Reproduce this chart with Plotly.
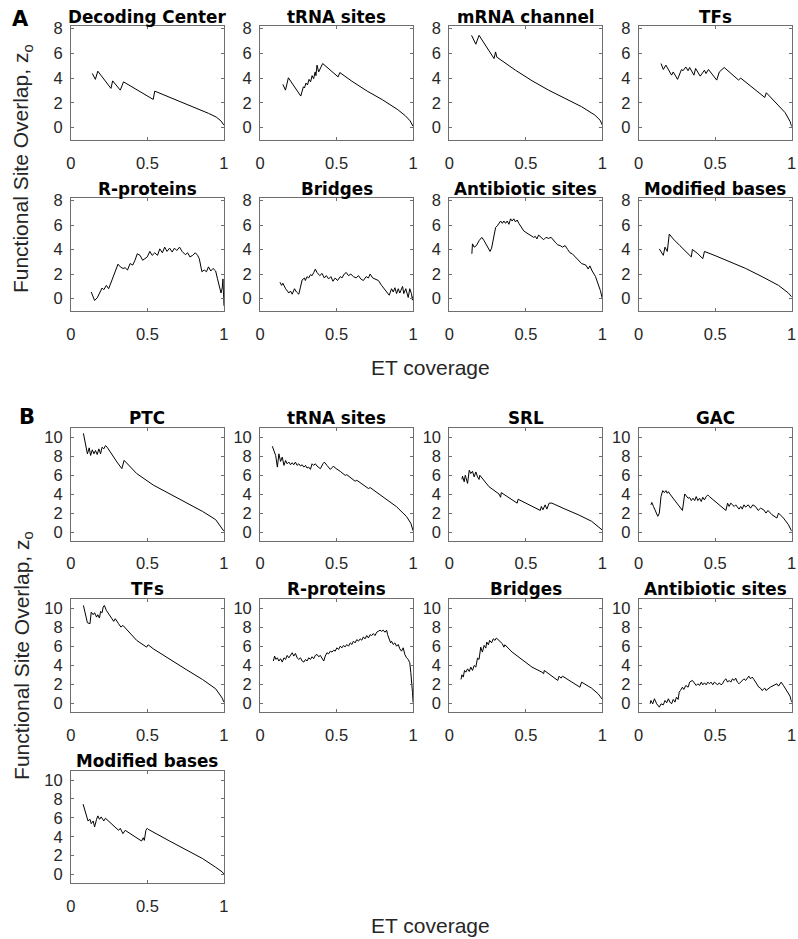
import plotly.graph_objects as go

# ---------------- data: Panel A ----------------
a_titles = ["Decoding Center", "tRNA sites", "mRNA channel", "TFs",
            "R-proteins", "Bridges", "Antibiotic sites", "Modified bases"]

a_decoding_x = [0.14, 0.16, 0.176, 0.262, 0.273, 0.323, 0.344, 0.538, 0.548, 0.7, 0.8, 0.9, 0.95, 0.98, 1.0]
a_decoding_y = [4.38, 3.9, 4.56, 3.17, 3.78, 3.03, 3.7, 2.28, 2.95, 2.2, 1.7, 1.15, 0.85, 0.55, 0.2]

a_trna_x = [0.149, 0.166, 0.185, 0.266, 0.283, 0.29, 0.30, 0.31, 0.32, 0.33, 0.34, 0.35, 0.36, 0.365,
            0.372, 0.383, 0.409, 0.51, 0.521, 0.6, 0.7, 0.8, 0.9, 0.95, 0.98, 1.0]
a_trna_y = [3.5, 3.03, 4.03, 2.55, 3.3, 3.2, 3.6, 3.45, 3.9, 3.7, 4.2, 3.95, 4.5, 4.2,
            5.05, 4.5, 5.18, 4.1, 4.45, 3.75, 2.95, 2.25, 1.45, 0.95, 0.55, 0.1]

a_mrna_x = [0.145, 0.173, 0.194, 0.292, 0.302, 0.31, 0.432, 0.54, 0.648, 0.756, 0.864, 0.95, 0.985, 1.0]
a_mrna_y = [7.46, 6.74, 7.46, 5.58, 6.12, 5.7, 4.64, 3.79, 3.03, 2.36, 1.69, 1.02, 0.6, 0.21]

a_tfs_x = [0.146, 0.161, 0.178, 0.215, 0.226, 0.254, 0.28, 0.29, 0.308, 0.323, 0.333, 0.361, 0.372,
           0.402, 0.43, 0.44, 0.456, 0.51, 0.527, 0.544, 0.559, 0.652, 0.667, 0.824, 0.834, 0.957, 0.99, 1.0]
a_tfs_y = [5.18, 4.7, 5.05, 4.24, 4.5, 3.9, 4.7, 4.6, 4.9, 4.6, 4.86, 4.24, 4.78,
           4.16, 4.64, 4.37, 4.7, 3.84, 4.5, 4.7, 4.86, 3.85, 4.0, 2.44, 2.82, 1.21, 0.48, 0.08]

a_rprot_x = [0.133, 0.155, 0.172, 0.194, 0.204, 0.215, 0.232, 0.247, 0.262, 0.275, 0.29, 0.308, 0.323,
             0.34, 0.355, 0.37, 0.387, 0.404, 0.419, 0.434, 0.452, 0.469, 0.484, 0.499, 0.516, 0.531,
             0.548, 0.566, 0.581, 0.598, 0.613, 0.628, 0.645, 0.662, 0.677, 0.692, 0.71, 0.727, 0.748,
             0.763, 0.778, 0.796, 0.813, 0.828, 0.839, 0.856, 0.871, 0.886, 0.899, 0.914, 0.929, 0.946,
             0.957, 0.968, 0.981, 0.989, 0.994, 1.0]
a_rprot_y = [0.53, -0.16, 0.05, 0.64, 0.86, 0.72, 1.07, 0.8, 1.26, 1.66, 2.19, 2.81, 2.59,
             2.46, 2.51, 2.33, 2.86, 2.73, 3.13, 3.66, 3.53, 3.13, 3.26, 3.4, 3.85, 3.53,
             3.74, 3.53, 4.06, 3.74, 4.2, 3.85, 4.12, 3.8, 4.12, 3.93, 4.2, 3.85, 3.58,
             3.74, 3.4, 3.53, 3.74, 3.53, 3.26, 2.19, 2.33, 2.19, 2.59, 2.25, 2.46, 2.25,
             1.66, 1.12, 0.45, 0.86, 1.6, -0.6]

a_bridges_x = [0.13, 0.141, 0.149, 0.167, 0.188, 0.199, 0.21, 0.225, 0.238, 0.253, 0.264, 0.275, 0.29,
               0.296, 0.307, 0.318, 0.329, 0.34, 0.351, 0.361, 0.372, 0.39, 0.405, 0.42, 0.433, 0.448,
               0.463, 0.476, 0.491, 0.506, 0.524, 0.535, 0.55, 0.563, 0.578, 0.593, 0.61, 0.628, 0.643,
               0.658, 0.675, 0.693, 0.708, 0.719, 0.736, 0.751, 0.773, 0.794, 0.816, 0.844, 0.859, 0.87,
               0.881, 0.892, 0.903, 0.913, 0.931, 0.939, 0.952, 0.968, 0.978, 0.989, 0.996, 1.0]
a_bridges_y = [1.33, 1.07, 1.25, 0.8, 0.45, 0.61, 0.35, 0.8, 0.53, 0.35, 0.93, 1.52, 1.68,
               1.47, 1.79, 1.68, 1.95, 1.87, 2.13, 2.4, 2.13, 1.87, 2.05, 1.68, 1.87, 1.6,
               1.79, 1.41, 1.68, 1.47, 1.79, 1.68, 2.0, 2.13, 1.87, 2.0, 1.79, 1.68, 1.87,
               1.6, 1.47, 1.79, 1.68, 2.0, 1.68, 1.6, 1.47, 1.07, 0.72, 0.27, 0.8, 0.53,
               0.88, 0.4, 0.8, 0.45, 0.99, 0.4, 0.8, 0.08, 0.8, 0.4, -0.13, 0.19]

a_antib_x = [0.147, 0.151, 0.162, 0.177, 0.194, 0.212, 0.227, 0.242, 0.255, 0.266, 0.276, 0.292, 0.302,
             0.313, 0.324, 0.335, 0.346, 0.356, 0.367, 0.378, 0.389, 0.4, 0.41, 0.421, 0.432, 0.443,
             0.454, 0.471, 0.486, 0.501, 0.518, 0.536, 0.551, 0.562, 0.572, 0.583, 0.6, 0.616, 0.631,
             0.648, 0.665, 0.68, 0.695, 0.708, 0.724, 0.739, 0.756, 0.773, 0.788, 0.803, 0.821, 0.842,
             0.864, 0.892, 0.907, 0.918, 0.933, 0.955, 0.972, 0.987, 0.998, 1.0]
a_antib_y = [3.66, 4.47, 4.2, 4.33, 4.73, 5.0, 4.73, 4.39, 4.01, 3.85, 4.12, 5.0, 5.8,
             5.94, 6.2, 6.34, 6.15, 6.34, 6.15, 6.34, 6.07, 6.52, 6.34, 6.52, 6.26, 6.42,
             6.15, 5.8, 5.53, 5.4, 5.27, 5.13, 5.0, 5.08, 4.87, 5.19, 5.0, 4.81, 5.0,
             4.92, 5.0, 4.73, 4.55, 4.39, 4.33, 4.2, 4.33, 4.01, 3.74, 3.66, 3.4, 3.13,
             2.86, 2.73, 2.41, 2.67, 2.25, 1.79, 1.26, 0.64, 0.05, -0.08]

a_modb_x = [0.135, 0.161, 0.172, 0.187, 0.2, 0.226, 0.269, 0.312, 0.344, 0.351, 0.387, 0.419, 0.43,
            0.505, 0.591, 0.699, 0.806, 0.914, 0.978, 1.0]
a_modb_y = [4.06, 3.53, 4.2, 3.85, 5.27, 4.87, 4.33, 3.8, 3.4, 4.01, 3.66, 3.26, 3.85,
            3.48, 3.05, 2.46, 1.79, 1.07, 0.45, 0.13]

# ---------------- data: Panel B ----------------
b_titles = ["PTC", "tRNA sites", "SRL", "GAC", "TFs", "R-proteins", "Bridges",
            "Antibiotic sites", "Modified bases"]

b_ptc_x = [0.082, 0.108, 0.12, 0.129, 0.14, 0.151, 0.161, 0.172, 0.183, 0.194, 0.204, 0.215, 0.226,
           0.237, 0.301, 0.333, 0.348, 0.43, 0.538, 0.645, 0.753, 0.86, 0.946, 0.989, 1.0]
b_ptc_y = [10.42, 8.26, 8.89, 8.09, 8.68, 8.26, 8.61, 8.19, 8.78, 8.26, 8.96, 8.78, 9.13,
           8.96, 7.4, 6.7, 7.57, 6.18, 4.97, 4.03, 3.16, 2.19, 1.32, 0.45, 0.1]

b_trna_x = [0.08, 0.102, 0.113, 0.123, 0.134, 0.145, 0.156, 0.167, 0.177, 0.188, 0.199, 0.21, 0.22,
            0.231, 0.242, 0.253, 0.264, 0.275, 0.286, 0.297, 0.307, 0.318, 0.329, 0.34, 0.35, 0.361,
            0.372, 0.383, 0.394, 0.411, 0.42, 0.437, 0.459, 0.48, 0.491, 0.524, 0.556, 0.567, 0.621,
            0.632, 0.708, 0.719, 0.805, 0.892, 0.957, 0.985, 1.0]
b_trna_y = [9.06, 8.08, 6.86, 8.26, 7.46, 7.91, 7.04, 7.56, 7.21, 7.39, 7.11, 7.32, 7.11,
            7.39, 7.04, 7.21, 6.97, 7.11, 6.86, 7.04, 6.76, 6.86, 6.62, 7.21, 7.04, 7.21,
            6.97, 6.86, 6.69, 7.21, 7.39, 7.04, 6.62, 6.97, 6.76, 6.41, 5.99, 6.06, 5.37,
            5.47, 4.6, 4.7, 3.73, 2.68, 1.64, 0.94, 0.14]

b_srl_x = [0.082, 0.086, 0.097, 0.104, 0.119, 0.13, 0.14, 0.151, 0.162, 0.173, 0.184, 0.194, 0.199,
           0.259, 0.324, 0.335, 0.339, 0.41, 0.443, 0.449, 0.54, 0.594, 0.601, 0.611, 0.626, 0.637,
           0.652, 0.67, 0.756, 0.842, 0.929, 0.972, 1.0]
b_srl_y = [5.56, 5.9, 5.31, 6.0, 5.14, 6.53, 6.18, 6.42, 5.83, 6.35, 5.83, 5.56, 6.0,
           4.79, 4.03, 3.68, 4.17, 3.4, 3.06, 3.47, 2.71, 2.29, 2.71, 2.36, 2.88, 2.43,
           3.06, 3.06, 2.43, 1.84, 1.15, 0.63, 0.21]

b_gac_x = [0.08, 0.086, 0.097, 0.125, 0.135, 0.146, 0.157, 0.168, 0.178, 0.187, 0.194, 0.209, 0.286,
           0.301, 0.323, 0.333, 0.344, 0.355, 0.366, 0.376, 0.387, 0.398, 0.409, 0.419, 0.43, 0.441,
           0.452, 0.462, 0.57, 0.581, 0.591, 0.602, 0.624, 0.634, 0.656, 0.667, 0.677, 0.688, 0.699,
           0.716, 0.731, 0.746, 0.763, 0.781, 0.796, 0.817, 0.832, 0.845, 0.871, 0.903, 0.914, 0.946,
           0.978, 1.0]
b_gac_y = [2.88, 3.13, 2.71, 1.67, 2.01, 3.75, 4.38, 4.17, 4.38, 4.1, 4.27, 3.92, 2.29,
           4.03, 3.58, 3.65, 3.33, 3.58, 3.33, 3.75, 3.33, 3.58, 3.23, 3.68, 3.4, 3.75,
           3.92, 3.75, 2.29, 3.06, 2.71, 3.06, 2.71, 2.88, 2.43, 2.71, 2.43, 2.88, 2.64,
           2.88, 2.53, 2.88, 2.71, 2.29, 2.53, 2.36, 2.01, 2.29, 1.84, 1.49, 2.01, 1.49,
           0.8, 0.1]

b_tfs_x = [0.082, 0.108, 0.125, 0.133, 0.146, 0.155, 0.168, 0.176, 0.187, 0.194, 0.204, 0.211, 0.219,
           0.232, 0.28, 0.29, 0.312, 0.327, 0.34, 0.43, 0.495, 0.505, 0.538, 0.645, 0.753, 0.86,
           0.946, 0.989, 1.0]
b_tfs_y = [10.28, 8.46, 8.35, 9.58, 9.3, 9.51, 9.05, 9.3, 8.95, 9.65, 9.51, 10.11, 10.28,
           9.75, 8.6, 8.88, 8.35, 8.0, 8.18, 6.6, 5.89, 6.14, 5.72, 4.6, 3.54, 2.49,
           1.51, 0.53, 0.1]

b_rprot_x = [0.087, 0.095, 0.104, 0.113, 0.123, 0.134, 0.145, 0.156, 0.167, 0.177, 0.188, 0.199, 0.21,
             0.22, 0.231, 0.242, 0.253, 0.264, 0.275, 0.286, 0.297, 0.307, 0.318, 0.329, 0.34, 0.35,
             0.361, 0.372, 0.383, 0.394, 0.405, 0.416, 0.426, 0.437, 0.448, 0.459, 0.47, 0.481, 0.491,
             0.502, 0.513, 0.524, 0.535, 0.545, 0.556, 0.567, 0.578, 0.589, 0.6, 0.61, 0.621, 0.632,
             0.643, 0.654, 0.665, 0.675, 0.686, 0.697, 0.708, 0.719, 0.729, 0.74, 0.751, 0.762, 0.773,
             0.784, 0.794, 0.805, 0.816, 0.827, 0.833, 0.844, 0.853, 0.859, 0.87, 0.881, 0.892, 0.903,
             0.913, 0.924, 0.935, 0.946, 0.957, 0.968, 0.978, 0.985, 0.991, 0.996, 1.0]
b_rprot_y = [4.43, 4.95, 4.6, 4.77, 4.43, 4.67, 4.32, 4.77, 4.6, 5.02, 4.77, 5.12, 5.3,
             4.95, 5.23, 4.77, 4.6, 4.77, 4.43, 4.32, 4.6, 4.43, 4.77, 4.6, 4.88, 4.67,
             5.02, 5.12, 4.88, 5.02, 4.67, 4.43, 4.95, 5.3, 5.19, 5.47, 5.37, 5.57, 5.47,
             5.82, 5.64, 5.99, 5.82, 6.06, 5.92, 6.17, 5.99, 6.34, 6.17, 6.52, 6.34, 6.69,
             6.52, 6.76, 6.62, 6.97, 6.76, 7.11, 6.86, 7.21, 7.11, 7.32, 7.11, 7.46, 7.56,
             7.67, 7.56, 7.67, 7.46, 7.67, 7.21, 6.69, 6.34, 6.52, 6.17, 6.34, 5.99, 6.17,
             5.71, 5.47, 5.82, 5.12, 4.77, 4.6, 4.25, 3.21, 2.33, 1.11, 0.07]

b_bridges_x = [0.076, 0.082, 0.091, 0.099, 0.108, 0.119, 0.13, 0.14, 0.151, 0.162, 0.173, 0.184, 0.194,
               0.205, 0.216, 0.227, 0.238, 0.244, 0.255, 0.263, 0.276, 0.287, 0.298, 0.307, 0.324, 0.346,
               0.356, 0.363, 0.41, 0.475, 0.54, 0.605, 0.616, 0.62, 0.691, 0.708, 0.717, 0.73, 0.739,
               0.799, 0.853, 0.864, 0.929, 0.972, 1.0]
b_bridges_y = [2.49, 2.98, 2.74, 3.44, 3.26, 3.61, 3.33, 3.79, 3.44, 3.96, 3.79, 4.74, 4.6,
               5.89, 5.37, 6.07, 5.79, 6.42, 6.14, 6.6, 6.35, 6.77, 6.6, 6.84, 6.6, 6.25,
               5.89, 6.14, 5.37, 4.6, 3.79, 3.26, 3.09, 3.44, 2.63, 2.39, 2.84, 2.63, 2.84,
               2.21, 1.68, 2.21, 1.58, 0.98, 0.39]

b_antib_x = [0.075, 0.08, 0.092, 0.103, 0.118, 0.135, 0.146, 0.161, 0.172, 0.183, 0.194, 0.204, 0.215,
             0.226, 0.237, 0.247, 0.258, 0.265, 0.273, 0.286, 0.295, 0.308, 0.323, 0.333, 0.351, 0.366,
             0.376, 0.387, 0.398, 0.409, 0.419, 0.43, 0.441, 0.452, 0.462, 0.473, 0.484, 0.495, 0.505,
             0.516, 0.527, 0.538, 0.548, 0.559, 0.57, 0.581, 0.591, 0.602, 0.613, 0.624, 0.634, 0.645,
             0.656, 0.667, 0.677, 0.688, 0.699, 0.71, 0.72, 0.731, 0.742, 0.753, 0.763, 0.774, 0.785,
             0.796, 0.806, 0.824, 0.832, 0.86, 0.882, 0.903, 0.914, 0.931, 0.946, 0.968, 0.989, 1.0]
b_antib_y = [-0.07, 0.28, -0.07, 0.46, -0.07, -0.42, -0.07, -0.18, 0.28, 0.04, 0.46, 0.11, -0.07,
             0.39, 0.11, 0.63, 0.39, 1.16, 1.33, 1.68, 1.44, 1.86, 1.68, 2.21, 2.39, 2.04,
             1.86, 2.04, 1.86, 2.21, 1.93, 2.14, 1.93, 2.21, 2.04, 2.21, 1.93, 2.21, 2.04,
             1.93, 2.14, 1.93, 2.04, 2.39, 2.56, 2.21, 2.39, 2.21, 2.56, 2.39, 2.63, 2.21,
             2.04, 2.21, 2.39, 2.56, 2.39, 2.63, 2.84, 2.56, 2.74, 2.49, 2.21, 2.04, 1.68,
             1.58, 1.33, 1.58, 1.33, 1.68, 1.86, 2.04, 1.79, 2.21, 1.86, 1.33, 0.74, 0.1]

b_modb_x = [0.08, 0.097, 0.112, 0.125, 0.133, 0.146, 0.155, 0.168, 0.176, 0.187, 0.198, 0.215, 0.226,
            0.312, 0.323, 0.34, 0.355, 0.462, 0.473, 0.48, 0.49, 0.499, 0.505, 0.645, 0.753, 0.86,
            0.946, 0.989, 1.0]
b_modb_y = [7.45, 6.56, 5.67, 5.85, 5.39, 5.67, 5.04, 5.85, 6.21, 5.85, 6.1, 5.67, 5.96,
            4.68, 4.89, 4.33, 4.68, 3.55, 3.9, 3.62, 4.68, 4.89, 4.79, 3.55, 2.66, 1.7,
            0.78, 0.28, 0.05]

x_tickvals = [0, 0.5, 1]
x_ticktext = ["0", "0.5", "1"]
a_ytickvals = [0, 2, 4, 6, 8]
b_ytickvals = [0, 2, 4, 6, 8, 10]
a_yrange = [-1, 8.2]
b_yrange = [-0.9, 11]

a_series = [(a_decoding_x, a_decoding_y), (a_trna_x, a_trna_y), (a_mrna_x, a_mrna_y),
            (a_tfs_x, a_tfs_y), (a_rprot_x, a_rprot_y), (a_bridges_x, a_bridges_y),
            (a_antib_x, a_antib_y), (a_modb_x, a_modb_y)]
b_series = [(b_ptc_x, b_ptc_y), (b_trna_x, b_trna_y), (b_srl_x, b_srl_y), (b_gac_x, b_gac_y),
            (b_tfs_x, b_tfs_y), (b_rprot_x, b_rprot_y), (b_bridges_x, b_bridges_y),
            (b_antib_x, b_antib_y), (b_modb_x, b_modb_y)]

# ---------------- layout geometry (pixels) ----------------
W, H = 798, 939
col_left = [66.7, 258.3, 450.0, 641.7]
col_w = 155.0
a_rows = [(19.3, 134.0), (192.7, 306.0)]
b_rows = [(424.0, 537.7), (596.0, 710.0), (769.3, 882.7)]

TICK_FONT = dict(family="Liberation Sans, Arial, sans-serif", size=16.5, color="#262626")
TITLE_FONT = dict(family="DejaVu Sans, sans-serif", size=16.8, color="#000000")
LABEL_FONT = dict(family="Liberation Sans, Arial, sans-serif", size=21, color="#262626")
AXIS_COLOR = "#6e6e6e"

fig = go.Figure()
layout = dict(width=W, height=H, margin=dict(l=0, r=0, t=0, b=0),
              paper_bgcolor="white", plot_bgcolor="white", showlegend=False,
              annotations=[])

panels = []
for i, (xs, ys) in enumerate(a_series):
    r, c = divmod(i, 4)
    panels.append((xs, ys, a_titles[i], a_rows[r], c, a_yrange, a_ytickvals))
for i, (xs, ys) in enumerate(b_series):
    r, c = divmod(i, 4)
    panels.append((xs, ys, b_titles[i], b_rows[r], c, b_yrange, b_ytickvals))

for k, (xs, ys, title, (top, bot), c, yr, ytv) in enumerate(panels, start=1):
    xa = "x" if k == 1 else f"x{k}"
    ya = "y" if k == 1 else f"y{k}"
    fig.add_trace(go.Scatter(x=xs, y=ys, mode="lines", xaxis=xa, yaxis=ya,
                             line=dict(color="black", width=1), hoverinfo="skip"))
    l = col_left[c]
    common = dict(showline=True, linecolor=AXIS_COLOR, linewidth=1, mirror="ticks",
                  ticks="inside", ticklen=3, tickcolor=AXIS_COLOR, tickwidth=1,
                  showgrid=False, zeroline=False, tickfont=TICK_FONT, fixedrange=True)
    layout["xaxis" if k == 1 else f"xaxis{k}"] = dict(
        domain=[l / W, (l + col_w) / W], anchor=ya, range=[0, 1],
        tickvals=x_tickvals, ticktext=x_ticktext, ticklabelstandoff=8, **common)
    layout["yaxis" if k == 1 else f"yaxis{k}"] = dict(
        domain=[1 - bot / H, 1 - top / H], anchor=xa, range=yr,
        tickvals=ytv, ticktext=[str(v) for v in ytv], ticklabelstandoff=4, **common)
    layout["annotations"].append(dict(
        text=f"<b>{title}</b>", x=(l + col_w / 2) / W, y=1 - (top - 9.5) / H,
        xref="paper", yref="paper", xanchor="center", yanchor="middle",
        showarrow=False, font=TITLE_FONT))

# panel letters
layout["annotations"].append(dict(text="<b>A</b>", x=16 / W, y=1 - 12 / H, xref="paper", yref="paper",
                                  xanchor="center", yanchor="middle", showarrow=False,
                                  font=dict(family="DejaVu Sans, sans-serif", size=21, color="black")))
layout["annotations"].append(dict(text="<b>B</b>", x=22 / W, y=1 - 413 / H, xref="paper", yref="paper",
                                  xanchor="center", yanchor="middle", showarrow=False,
                                  font=dict(family="DejaVu Sans, sans-serif", size=21, color="black")))

# axis labels
for yc in (363, 925):
    layout["annotations"].append(dict(text="ET coverage", x=431 / W, y=1 - yc / H, xref="paper",
                                      yref="paper", xanchor="center", yanchor="middle",
                                      showarrow=False, font=LABEL_FONT))
for yc in (162.5, 653):
    layout["annotations"].append(dict(text="Functional Site Overlap, z<sub>o</sub>", x=18 / W,
                                      y=1 - yc / H, xref="paper", yref="paper", xanchor="center",
                                      yanchor="middle", textangle=-90, showarrow=False,
                                      font=LABEL_FONT))

fig.update_layout(**layout)
fig.write_html("out.html",
               config={"displayModeBar": False},
               post_script="document.body.style.margin='0';document.body.style.padding='0';"
                           "document.body.style.overflow='hidden';"
                           "document.documentElement.style.overflow='hidden';")
